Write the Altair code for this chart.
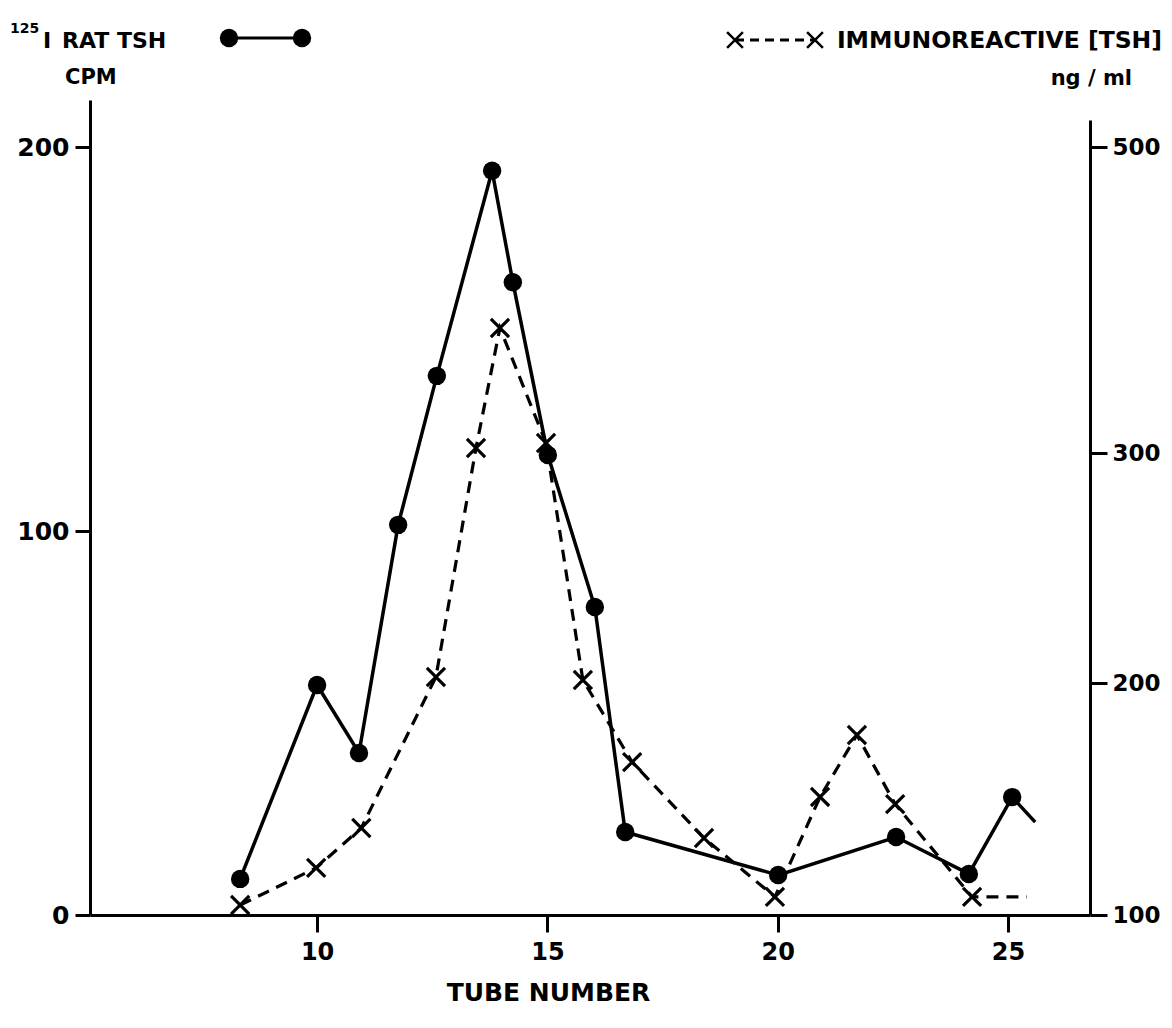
import altair as alt
import pandas as pd

FONT = "DejaVu Sans"

# ---- data ----
tube_cpm = [8.33, 10.0, 10.91, 11.76, 12.60, 13.80, 14.25, 15.01, 16.03, 16.69, 20.01, 22.57, 24.15, 25.09, 25.59]
cpm = [9.4, 59.9, 42.2, 101.6, 140.4, 193.8, 164.8, 119.8, 80.2, 21.6, 10.4, 20.3, 10.7, 30.7, 24.2]
cpm_marker = [True] * 14 + [False]

tube_tsh = [8.33, 9.98, 10.96, 12.58, 13.45, 13.97, 14.97, 15.77, 16.84, 18.40, 19.94, 20.92, 21.72, 22.55, 24.22, 25.41]
tsh = [104.3, 120.3, 137.5, 202.6, 303.3, 381.7, 306.5, 201.3, 165.9, 133.2, 107.8, 150.9, 177.6, 147.8, 107.8, 107.8]
tsh_marker = [True] * 15 + [False]

x_ticks = [10, 15, 20, 25]
left_ticks = [0, 100, 200]
right_ticks = [100, 200, 300, 500]

df_cpm = pd.DataFrame({"tube": tube_cpm, "cpm": cpm, "marker": cpm_marker})
df_tsh = pd.DataFrame({"tube": tube_tsh, "tsh": tsh, "marker": tsh_marker})

W, H = 1000, 815
CROSS = "M-1,-1L1,1M-1,1L1,-1"

x_enc = alt.X(
    "tube:Q",
    scale=alt.Scale(domain=[5.07, 26.78], nice=False, zero=False),
    axis=alt.Axis(values=x_ticks, title="TUBE NUMBER", orient="bottom",
                  tickSize=17, labelPadding=8, labelBaseline="top",
                  labelFontSize=24, titleFontSize=25,
                  titleX=458, titleY=85, titleAlign="center",
                  titleBaseline="alphabetic", labelFlush=False),
)

y_left = alt.Y(
    "cpm:Q",
    scale=alt.Scale(domain=[0, 212.24], nice=False, zero=False),
    axis=alt.Axis(values=left_ticks, orient="left", title=None,
                  tickSize=15, labelPadding=6, labelFontSize=25, labelFlush=False),
)

y_right = alt.Y(
    "tsh:Q",
    scale=alt.Scale(domain=[100, 200, 300, 500, 517.6], range=[815, 583, 353, 47, 20],
                    nice=False, zero=False),
    axis=alt.Axis(values=right_ticks, orient="right", title=None,
                  tickSize=17, labelPadding=5, labelFontSize=23, labelFlush=False),
)

cpm_line = alt.Chart(df_cpm).mark_line(color="black", strokeWidth=3.5).encode(x=x_enc, y=y_left)
cpm_pts = alt.Chart(df_cpm).transform_filter("datum.marker").mark_point(
    shape="circle", filled=True, color="black", size=340, opacity=1
).encode(x=x_enc, y=y_left)

tsh_line = alt.Chart(df_tsh).mark_line(color="black", strokeWidth=3.2, strokeDash=[12, 8]).encode(x=x_enc, y=y_right)
tsh_pts = alt.Chart(df_tsh).transform_filter("datum.marker").mark_point(
    shape=CROSS, filled=False, color="black", size=330, strokeWidth=3.2, opacity=1
).encode(x=x_enc, y=y_right)

left_layer = alt.layer(cpm_line, cpm_pts)
right_layer = alt.layer(tsh_line, tsh_pts)

one = alt.Data(values=[{}])


def txt(s, x, y, size=22, align="left"):
    return alt.Chart(one).mark_text(
        text=s, font=FONT, fontWeight="bold", fontSize=size, color="black",
        align=align, baseline="alphabetic"
    ).encode(x=alt.value(x), y=alt.value(y))


annots = [
    txt("125", -80, -67, size=14),
    txt("I", -47, -52, size=22),
    txt("RAT TSH", -28, -52, size=22),
    txt("CPM", -25, -16, size=21),
    txt("IMMUNOREACTIVE [TSH]", 1072, -52, size=23.5, align="right"),
    txt("ng / ml", 1042, -15, size=21, align="right"),
    alt.Chart(one).mark_rule(color="black", strokeWidth=3).encode(
        x=alt.value(139), x2=alt.value(212), y=alt.value(-62)),
    alt.Chart(one).mark_point(shape="circle", filled=True, color="black", size=340, opacity=1).encode(
        x=alt.value(139), y=alt.value(-62)),
    alt.Chart(one).mark_point(shape="circle", filled=True, color="black", size=340, opacity=1).encode(
        x=alt.value(212), y=alt.value(-62)),
    alt.Chart(one).mark_rule(color="black", strokeWidth=3, strokeDash=[9, 6]).encode(
        x=alt.value(645), x2=alt.value(725), y=alt.value(-60)),
    alt.Chart(one).mark_point(shape=CROSS, filled=False, color="black", size=250, strokeWidth=2.5, opacity=1).encode(
        x=alt.value(645), y=alt.value(-60)),
    alt.Chart(one).mark_point(shape=CROSS, filled=False, color="black", size=250, strokeWidth=2.5, opacity=1).encode(
        x=alt.value(725), y=alt.value(-60)),
]

chart = alt.layer(left_layer, right_layer, *annots).resolve_scale(y="independent").properties(
    width=W, height=H,
    autosize=alt.AutoSizeParams(type="none"),
    padding={"left": 82, "top": 92, "right": 74, "bottom": 105},
    background="white",
).configure_view(stroke=None).configure_axis(
    grid=False, domainColor="black", domainWidth=3, tickColor="black", tickWidth=3,
    labelColor="black", labelFont=FONT, labelFontWeight="bold",
    titleColor="black", titleFont=FONT, titleFontWeight="bold",
)

chart.save("out.html", embed_options={"renderer": "svg", "actions": False})
